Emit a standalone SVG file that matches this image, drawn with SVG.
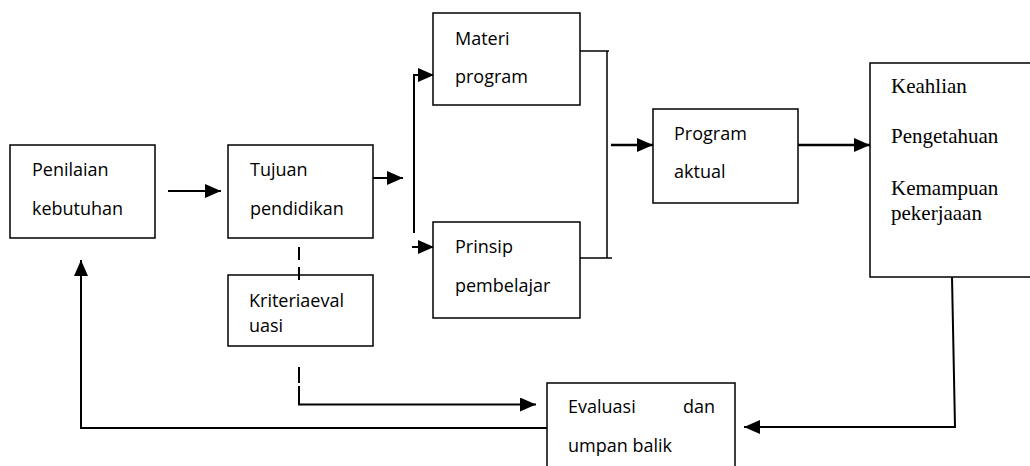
<svg xmlns="http://www.w3.org/2000/svg" width="1030" height="466" viewBox="0 0 1030 466">
<style>
.box{fill:#fff;stroke:#000;stroke-width:1.5}
.t{font-family:"Open Sans","Liberation Sans",Arial,sans-serif;font-size:18px;fill:#000}
.s{font-family:"Liberation Serif","Times New Roman",serif;font-size:21px;fill:#000}
.ln{fill:none;stroke:#000;stroke-width:2}
.thin{fill:none;stroke:#000;stroke-width:1.5}
.ar{fill:none;stroke:#000;stroke-width:2;marker-end:url(#ah)}
.ars{fill:none;stroke:#000;stroke-width:2.5;marker-end:url(#ah)}
</style>
<defs>
<marker id="ah" markerUnits="userSpaceOnUse" markerWidth="16" markerHeight="14" refX="16" refY="7" orient="auto">
<path d="M0,0 L16,7 L0,14 Z" fill="#000"/>
</marker>
</defs>
<rect width="1030" height="466" fill="#fff"/>
<g id="connectors">
<line class="ar" x1="168" y1="191" x2="221" y2="191"/>
<line class="ar" x1="373" y1="178" x2="403" y2="178"/>
<polyline class="ln" points="414,233 414,75 418,75"/>
<line class="ar" x1="414" y1="75" x2="434" y2="75"/>
<line class="ar" x1="412" y1="247" x2="434" y2="247"/>
<polyline class="thin" points="580,51 609,51"/>
<line class="thin" x1="607" y1="51" x2="607" y2="258"/>
<polyline class="thin" points="580,258 612,258"/>
<line class="ars" x1="611" y1="145" x2="653" y2="145"/>
<line class="ars" x1="798" y1="145" x2="870" y2="145"/>
<line class="ln" x1="299" y1="247" x2="299" y2="260"/>
<line class="ln" x1="299" y1="267" x2="299" y2="280"/>
<line class="ln" x1="299" y1="367" x2="299" y2="383"/>
<line class="ln" x1="299" y1="386" x2="299" y2="404"/>
<line class="ar" x1="298" y1="404.5" x2="536" y2="404.5"/>
<polyline class="ln" points="952,277 955,427 744,427" style="marker-end:url(#ah)"/>
<polyline class="ln" points="547,428 81,428 81,260" style="marker-end:url(#ah)"/>
</g>
<g id="penilaian">
<rect class="box" x="10" y="145" width="145" height="93"/>
<text class="t" x="32" y="176">Penilaian</text>
<text class="t" x="32" y="215">kebutuhan</text>
</g>
<g id="tujuan">
<rect class="box" x="228" y="145" width="145" height="93"/>
<text class="t" x="250" y="176">Tujuan</text>
<text class="t" x="250" y="215">pendidikan</text>
</g>
<g id="kriteria">
<rect class="box" x="228" y="275" width="145" height="71"/>
<line class="ln" x1="299" y1="275" x2="299" y2="280"/>
<text class="t" x="249" y="307">Kriteriaeval</text>
<text class="t" x="249" y="332">uasi</text>
</g>
<g id="materi">
<rect class="box" x="433" y="13" width="147" height="92"/>
<text class="t" x="455" y="45">Materi</text>
<text class="t" x="455" y="83">program</text>
</g>
<g id="prinsip">
<rect class="box" x="433" y="222" width="147" height="96"/>
<text class="t" x="455" y="253">Prinsip</text>
<text class="t" x="455" y="292">pembelajar</text>
</g>
<g id="program">
<rect class="box" x="653" y="109" width="145" height="94"/>
<text class="t" x="674" y="140">Program</text>
<text class="t" x="674" y="178">aktual</text>
</g>
<g id="keahlian">
<path class="box" d="M1032,63 L870,63 L870,277 L1032,277"/>
<text class="s" x="891" y="93">Keahlian</text>
<text class="s" x="891" y="143">Pengetahuan</text>
<text class="s" x="891" y="195">Kemampuan</text>
<text class="s" x="891" y="220">pekerjaaan</text>
</g>
<g id="evaluasi">
<path class="box" d="M547,470 L547,383 L735,383 L735,470"/>
<text class="t" x="568" y="413">Evaluasi</text>
<text class="t" x="683" y="413">dan</text>
<text class="t" x="568" y="452">umpan balik</text>
</g>
</svg>
